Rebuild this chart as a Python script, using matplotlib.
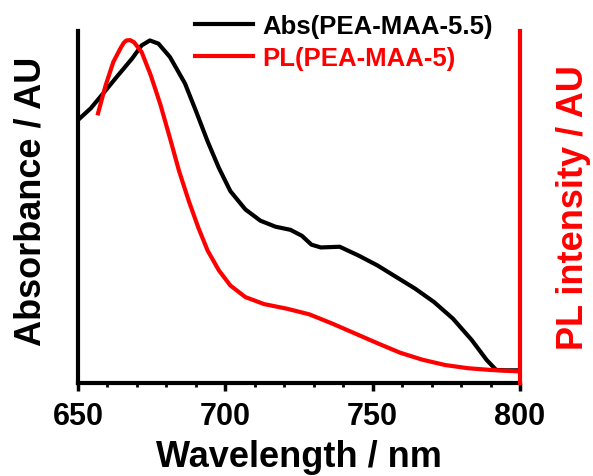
import matplotlib.pyplot as plt
from matplotlib.ticker import MultipleLocator, NullLocator

plt.rcParams['font.family'] = ['Liberation Sans', 'DejaVu Sans']
plt.rcParams['font.weight'] = 'bold'

# absorbance (normalised)
abs_wl = [650, 654.3, 658.1, 663.2, 668.4, 671.6, 674.4, 677.3, 681.2, 686.3,
          690.1, 694, 697.8, 701.7, 706.8, 711.9, 717, 722.1, 726, 729.2,
          732.4, 738.8, 745.2, 751.6, 758, 764.4, 770.8, 777.2, 783.6, 788.7,
          791.9, 795.1, 799]
abs_val = [0.747, 0.780, 0.818, 0.870, 0.922, 0.959, 0.973, 0.964, 0.926, 0.851,
           0.771, 0.686, 0.611, 0.545, 0.493, 0.461, 0.444, 0.435, 0.418, 0.393,
           0.385, 0.387, 0.362, 0.334, 0.301, 0.268, 0.230, 0.183, 0.122, 0.065,
           0.037, 0.036, 0.036]

# PL (normalised)
pl_wl = [656.8, 659.4, 662, 664.5, 665.5, 666.4, 667.7, 669, 671.6, 674.7, 678, 681.2,
         684.3, 687.6, 690.8, 694, 697.8, 701.7, 706.8, 713.2, 720.9, 728.5,
         736.2, 743.9, 751.6, 759.3, 766.9, 774.6, 782.3, 790, 799.6]
pl_val = [0.766, 0.846, 0.912, 0.952, 0.966, 0.973, 0.974, 0.968, 0.940, 0.874, 0.790, 0.696,
          0.602, 0.517, 0.442, 0.376, 0.320, 0.277, 0.244, 0.224, 0.211, 0.195,
          0.169, 0.141, 0.113, 0.086, 0.066, 0.051, 0.042, 0.037, 0.033]

fig = plt.figure(figsize=(5.93, 4.77), dpi=100)
ax = fig.add_axes([0.1315, 0.195, 0.7455, 0.738])
ax2 = ax.twinx()

l1, = ax.plot(abs_wl, abs_val, color='black', lw=3, label='Abs(PEA-MAA-5.5)')
l2, = ax2.plot(pl_wl, pl_val, color='red', lw=3, label='PL(PEA-MAA-5)')

for a in (ax, ax2):
    a.set_xlim(650, 800)
    a.set_ylim(0, 1)
    a.yaxis.set_major_locator(NullLocator())
    a.spines['top'].set_visible(False)
    for s in a.spines.values():
        s.set_linewidth(3)

ax.spines['right'].set_visible(False)
ax2.spines['left'].set_visible(False)
ax2.spines['bottom'].set_visible(False)
ax2.spines['right'].set_color('red')

ax.xaxis.set_major_locator(MultipleLocator(50))
ax.xaxis.set_minor_locator(MultipleLocator(10))
ax.tick_params(axis='x', which='major', direction='out', length=6, width=2.5,
               labelsize=22, pad=7)
ax.tick_params(axis='x', which='minor', direction='out', length=3, width=2)

ax.set_xlabel('Wavelength / nm', fontsize=26, fontweight='bold', labelpad=6)
ax.set_ylabel('Absorbance / AU', fontsize=26, fontweight='bold', labelpad=10)
ax.yaxis.set_label_coords(-0.067, 0.52)
ax2.set_ylabel('PL intensity / AU', fontsize=26, fontweight='bold',
               color='red', labelpad=26)

leg = fig.legend(handles=[l1, l2], loc='upper left', bbox_to_anchor=(0.329, 0.968),
                 frameon=False, fontsize=18.5, handlelength=2.26, handletextpad=0.35,
                 labelspacing=0.3, borderpad=0, borderaxespad=0)
leg.get_texts()[1].set_color('red')
for t in leg.get_texts():
    t.set_fontweight('bold')

fig.savefig('out.png', dpi=100)
